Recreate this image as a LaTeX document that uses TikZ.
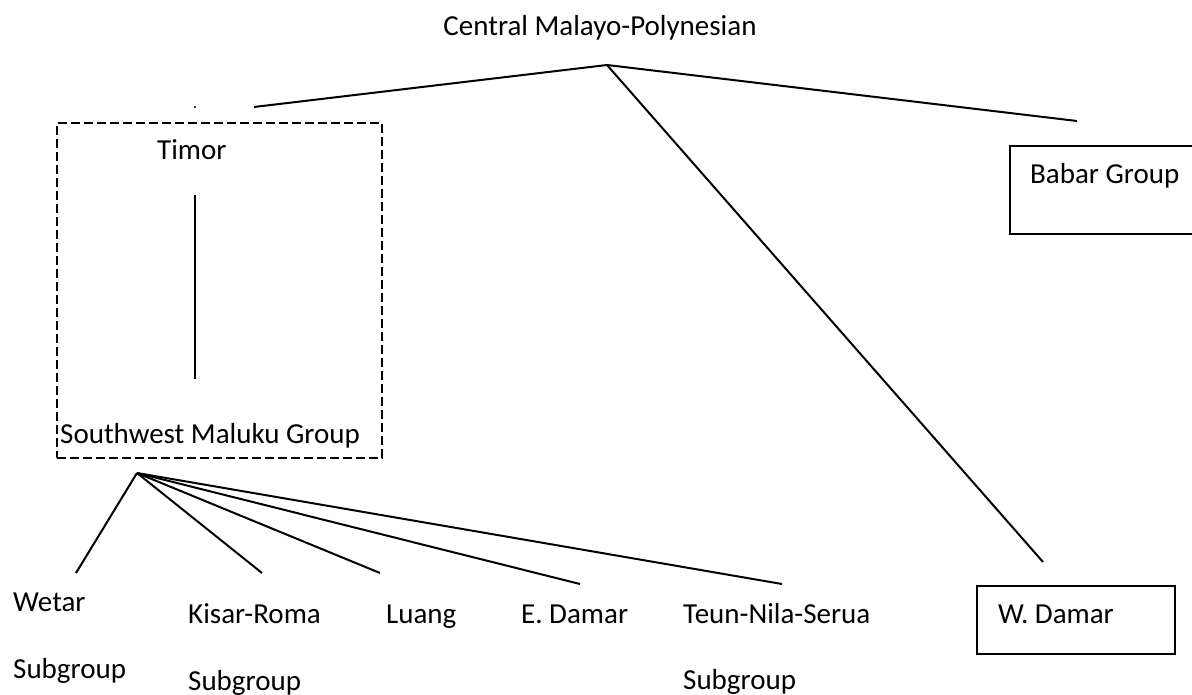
\documentclass[tikz,border=0pt]{standalone}
\usepackage{fontspec}
\setmainfont{Carlito}
\usetikzlibrary{positioning}

\begin{document}
\begin{tikzpicture}[x=1pt, y=-1pt,
                    lbl/.style = {
                      inner sep=0pt, anchor=base west,
                      font=\fontsize{29pt}{35pt}\selectfont
                    },
                    branch/.style = {
                      line width=2pt
                    },
                    groupbox/.style = {
                      draw, line width=2pt,
                      inner sep=0pt, anchor=north west
                    },
                    dashbox/.style = {
                      draw, line width=2pt,
                      dash pattern=on 9pt off 4pt,
                      inner sep=0pt, anchor=north west
                    }]
  \useasboundingbox (0,0) rectangle (1192,695);
  \clip (0,0) rectangle (1192,695);

  \node[lbl, anchor=base] (cmp) at (600,36) {Central Malayo-Polynesian};
  \coordinate (cmptop) at (607,65);
  \coordinate (timorend) at (254,107);
  \coordinate (babarend) at (1077,121);
  \coordinate (wdamarend) at (1043,562);
  \fill (195,107) circle (1.2pt);

  \node[dashbox, minimum width=325pt, minimum height=335pt] (swmbox) at (56,122) {};
  \node[lbl] (timor) at (157,160) {Timor};
  \node[lbl] (swm) at (60,443) {Southwest Maluku Group};
  \coordinate (timorlow) at (195,195);
  \coordinate (swmhigh) at (195,379);

  \node[groupbox, minimum width=190pt, minimum height=88pt] (babarbox) at (1009,145) {};
  \node[lbl] (babar) at (1030,184) {Babar Group};
  \node[groupbox, minimum width=198pt, minimum height=68pt] (wdamarbox) at (976,585) {};
  \node[lbl] (wdamar) at (998,623) {W. Damar};

  \coordinate (swmtop) at (137,473);
  \coordinate (wetarend) at (76,573);
  \coordinate (kisarend) at (262,573);
  \coordinate (luangend) at (380,573);
  \coordinate (edamarend) at (580,584);
  \coordinate (teunend) at (782,584);

  \node[lbl] (wetar) at (13,611) {Wetar};
  \node[lbl, below=67pt of wetar.base west, anchor=base west] (wetarsub) {Subgroup};
  \node[lbl] (kisar) at (188,623) {Kisar-Roma};
  \node[lbl, below=67pt of kisar.base west, anchor=base west] (kisarsub) {Subgroup};
  \node[lbl] (luang) at (386,623) {Luang};
  \node[lbl] (edamar) at (521,623) {E. Damar};
  \node[lbl] (teun) at (683,623) {Teun-Nila-Serua};
  \node[lbl, below=66pt of teun.base west, anchor=base west] (teunsub) {Subgroup};

  \draw[branch] (cmptop) -- (timorend);
  \draw[branch] (cmptop) -- (babarend);
  \draw[branch] (cmptop) -- (wdamarend);
  \draw[branch] (timorlow) -- (swmhigh);
  \draw[branch] (swmtop) -- (wetarend);
  \draw[branch] (swmtop) -- (kisarend);
  \draw[branch] (swmtop) -- (luangend);
  \draw[branch] (swmtop) -- (edamarend);
  \draw[branch] (swmtop) -- (teunend);
\end{tikzpicture}
\end{document}
